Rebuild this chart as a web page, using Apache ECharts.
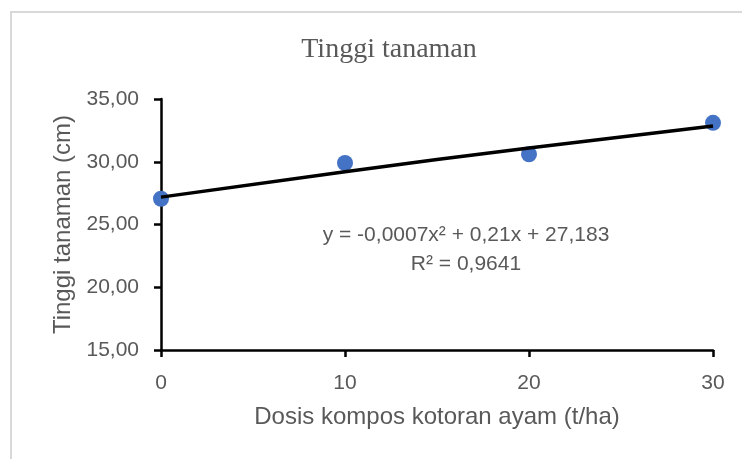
<!DOCTYPE html>
<html>
<head>
<meta charset="utf-8">
<script src="https://cdn.jsdelivr.net/npm/echarts@6/dist/echarts.min.js"></script>
<style>
  html, body { margin: 0; padding: 0; background: #fff; }
  #chart { width: 742px; height: 459px; }
</style>
</head>
<body>
<div id="chart"></div>
<script>
// dosis kompos (t/ha) and measured plant height (cm)
const doses = [0, 10, 20, 30]
const heights = [27.05, 29.9, 30.6, 33.1]
// polynomial trendline
const trendDoses = [0, 10, 20, 30]
const trendHeights = [27.18, 29.21, 31.10, 32.85]
const equationText = 'y = -0,0007x² + 0,21x + 27,183'
const r2Text = 'R² = 0,9641'

const grey = '#595959'
const chart = echarts.init(document.getElementById('chart'))

const option = {
  animation: false,
  title: {
    text: 'Tinggi tanaman',
    left: 384,
    top: 31,
    textAlign: 'center',
    textStyle: {
      fontFamily: 'Liberation Serif',
      fontWeight: 'normal',
      fontSize: 28,
      color: grey
    }
  },
  grid: { left: 161, right: 29, top: 99, bottom: 109 },
  xAxis: {
    type: 'value',
    min: 0,
    max: 30,
    interval: 10,
    name: 'Dosis kompos kotoran ayam (t/ha)',
    nameLocation: 'middle',
    nameGap: 55,
    nameTextStyle: { fontFamily: 'Liberation Sans', fontSize: 24, color: grey },
    axisLine: { lineStyle: { color: '#000', width: 2.5 } },
    axisTick: { show: true, length: 7, lineStyle: { color: '#000', width: 2.5 } },
    axisLabel: { margin: 23, fontFamily: 'Liberation Sans', fontSize: 21, color: grey },
    splitLine: { show: false }
  },
  yAxis: {
    type: 'value',
    min: 15,
    max: 35,
    interval: 5,
    name: 'Tinggi tanaman (cm)',
    nameLocation: 'middle',
    nameGap: 84,
    nameTextStyle: { fontFamily: 'Liberation Sans', fontSize: 24, color: grey },
    axisLine: { show: true, lineStyle: { color: '#000', width: 2.5 } },
    axisTick: { show: true, length: 7, lineStyle: { color: '#000', width: 2.5 } },
    axisLabel: {
      margin: 22,
      fontFamily: 'Liberation Sans',
      fontSize: 21,
      color: grey,
      formatter: v => v.toFixed(2).replace('.', ',')
    },
    splitLine: { show: false }
  },
  graphic: [
    {
      type: 'rect',
      shape: { x: 11, y: 12, width: 780, height: 500 },
      style: { fill: 'none', stroke: '#d9d9d9', lineWidth: 2 },
      silent: true
    },
    {
      type: 'text',
      x: 466,
      y: 235,
      style: {
        text: equationText,
        fontFamily: 'Liberation Sans',
        fontSize: 21,
        fill: grey,
        align: 'center',
        verticalAlign: 'middle'
      }
    },
    {
      type: 'text',
      x: 466,
      y: 264,
      style: {
        text: r2Text,
        fontFamily: 'Liberation Sans',
        fontSize: 21,
        fill: grey,
        align: 'center',
        verticalAlign: 'middle'
      }
    }
  ],
  series: [
    {
      type: 'scatter',
      data: doses.map((d, i) => [d, heights[i]]),
      symbolSize: 16,
      itemStyle: { color: '#4472C4', opacity: 1 },
      z: 2
    },
    {
      type: 'line',
      data: trendDoses.map((d, i) => [d, trendHeights[i]]),
      smooth: true,
      showSymbol: false,
      lineStyle: { color: '#000', width: 3.5 },
      z: 3
    }
  ]
}

chart.setOption(option)
</script>
</body>
</html>
